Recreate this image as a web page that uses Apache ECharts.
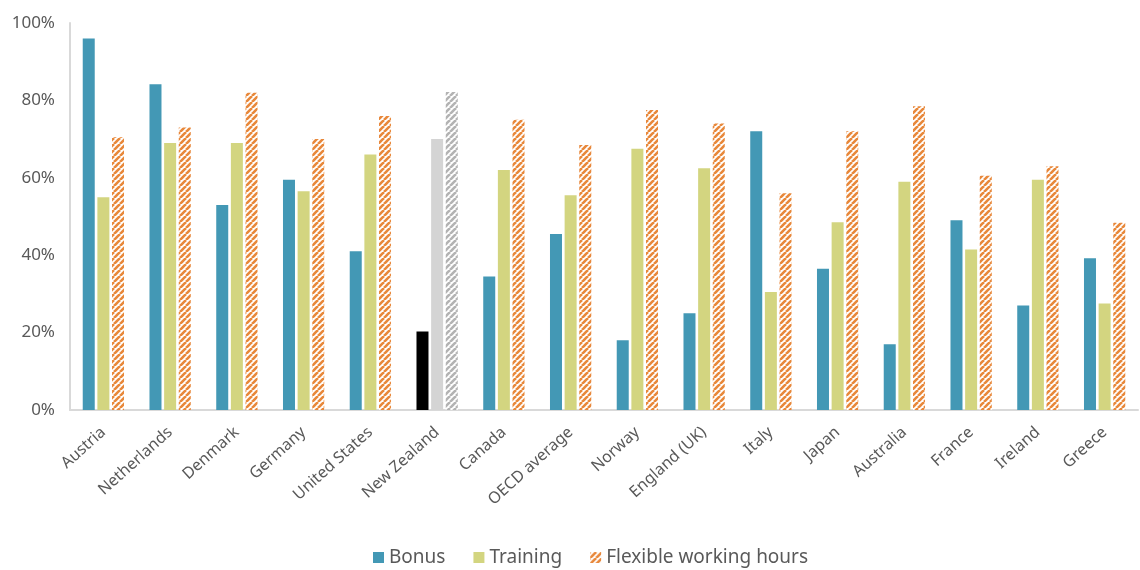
<!DOCTYPE html>
<html>
<head>
<meta charset="utf-8">
<script src="https://cdn.jsdelivr.net/npm/echarts@6/dist/echarts.min.js"></script>
<style>
  html, body { margin: 0; padding: 0; background: #fff; }
  #chart { width: 1140px; height: 570px; }
</style>
</head>
<body>
<div id="chart"></div>
<script>
// Share of respondents reporting each incentive, by country (%)
const categories = ['Austria', 'Netherlands', 'Denmark', 'Germany', 'United States', 'New Zealand',
  'Canada', 'OECD average', 'Norway', 'England (UK)', 'Italy', 'Japan', 'Australia', 'France',
  'Ireland', 'Greece'];
const bonus =    [96, 84.2, 53, 59.5, 41, 20.3, 34.5, 45.5, 18, 25, 72, 36.5, 17, 49, 27, 39.2];
const training = [55, 69, 69, 56.5, 66, 70, 62, 55.5, 67.5, 62.5, 30.5, 48.5, 59, 41.5, 59.5, 27.5];
const flexible = [70.5, 73, 82, 70, 76, 82.2, 75, 68.5, 77.5, 74, 56, 72, 78.5, 60.5, 63, 48.4];
const yTicks = [0, 20, 40, 60, 80, 100];
const highlight = 'New Zealand';

// Diagonal "/" stripe fill for the hatched bars
function stripes(color) {
  const s = 6;
  const c = document.createElement('canvas');
  c.width = s; c.height = s;
  const g = c.getContext('2d');
  g.fillStyle = '#ffffff';
  g.fillRect(0, 0, s, s);
  g.strokeStyle = color;
  g.lineWidth = 2.6;
  for (let k = -1; k <= 1; k++) {
    g.beginPath();
    g.moveTo(k * s, s);
    g.lineTo(k * s + s, 0);
    g.stroke();
  }
  return { image: c, repeat: 'repeat' };
}

const BLUE = '#4398b5';
const GREEN = '#d3d580';
const ORANGE = '#e8883a';
const orangeHatch = stripes(ORANGE);
const greyHatch = stripes('#b3b3b3');

function seriesData(values, hiColor) {
  return values.map((v, i) => categories[i] === highlight
    ? { value: v, itemStyle: { color: hiColor } }
    : v);
}

const chart = echarts.init(document.getElementById('chart'), null, { renderer: 'canvas' });
const font = '"Noto Sans", "Open Sans", sans-serif';

chart.setOption({
  animation: false,
  grid: { left: 70, right: 2, top: 23, bottom: 160 },
  legend: {
    bottom: -2,
    left: 368,
    icon: 'rect',
    itemWidth: 11,
    itemHeight: 11,
    itemGap: 28,
    textStyle: { fontFamily: font, fontSize: 19, color: '#595959' },
    data: ['Bonus', 'Training', 'Flexible working hours']
  },
  xAxis: {
    type: 'category',
    data: categories,
    axisLine: { lineStyle: { color: '#d9d9d9', width: 2 } },
    axisTick: { show: false },
    axisLabel: { rotate: 42, margin: 20, fontFamily: font, fontSize: 16, color: '#595959' }
  },
  yAxis: {
    type: 'value',
    min: yTicks[0],
    max: yTicks[yTicks.length - 1],
    interval: 20,
    axisLine: { show: true, lineStyle: { color: '#d9d9d9', width: 2 } },
    axisTick: { show: false },
    splitLine: { show: false },
    axisLabel: { formatter: '{value}%', margin: 15, fontFamily: font, fontSize: 17, color: '#595959' }
  },
  series: [
    {
      name: 'Bonus', type: 'bar', barWidth: 12, barGap: '22%',
      itemStyle: { color: BLUE },
      data: seriesData(bonus, '#000000')
    },
    {
      name: 'Training', type: 'bar', barWidth: 12, barGap: '22%',
      itemStyle: { color: GREEN },
      data: seriesData(training, '#d4d4d4')
    },
    {
      name: 'Flexible working hours', type: 'bar', barWidth: 12, barGap: '22%',
      itemStyle: { color: orangeHatch },
      data: seriesData(flexible, greyHatch)
    }
  ]
});
</script>
</body>
</html>
